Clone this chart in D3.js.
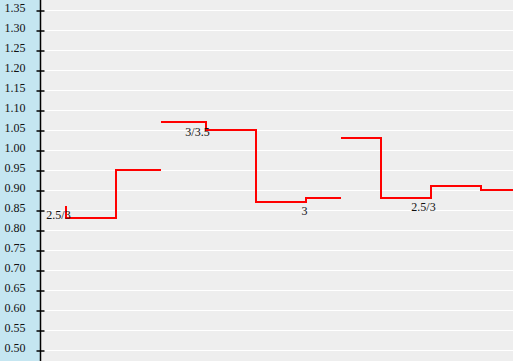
<!DOCTYPE html>
<html>
<head>
<meta charset="utf-8">
<script src="https://cdn.jsdelivr.net/npm/d3@7"></script>
<style>
  body { margin: 0; background: #eeeeee; }
  svg { display: block; }
</style>
</head>
<body>
<div id="chart"></div>
<script>
// Odds series, one per handicap line (x in time units, y is the odds)
var seriesNames = ['2.5/3', '3/3.5', '3']
var series1X = [5, 15, 24]
var series1Y = [0.86, 0.83, 0.95]
var series2X = [24, 33, 43, 53, 60]
var series2Y = [1.07, 1.07, 1.05, 0.87, 0.88]
var series3X = [60, 68, 78, 88, 96]
var series3Y = [1.03, 1.03, 0.88, 0.91, 0.90]

// Handicap labels shown on the lines
var labelText = ['2.5/3', '3/3.5', '3', '2.5/3']
var labelX = [3.6, 31.4, 52.8, 76.6]
var labelY = [0.83, 1.0375, 0.84, 0.848]

// Y axis ticks
var yTicks = d3.range(0.5, 1.3501, 0.05)

// Layout variables
var width = 513
var height = 361
var axisX = 40

var svg = d3.select('#chart').append('svg')
  .attr('width', width)
  .attr('height', height)

// Backgrounds: blue strip behind the axis labels, grey plot area
svg.append('rect')
  .attr('x', 0).attr('y', 0)
  .attr('width', axisX).attr('height', height)
  .style('fill', '#c5e6f1')
svg.append('rect')
  .attr('x', axisX).attr('y', 0)
  .attr('width', width - axisX).attr('height', height)
  .style('fill', '#eeeeee')

var xScale = d3.scaleLinear()
  .domain([0, 94.5])
  .range([40.5, 513])

var yScale = d3.scaleLinear()
  .domain([0.5, 1.35])
  .range([350.5, 10.5])

// Gridlines
svg.append('g')
  .selectAll('line')
  .data(yTicks)
  .enter().append('line')
  .attr('x1', axisX)
  .attr('x2', width)
  .attr('y1', function (d) { return yScale(d) })
  .attr('y2', function (d) { return yScale(d) })
  .style('stroke', '#ffffff')
  .style('stroke-width', 1)

// Y axis
var yAxis = d3.axisLeft(yScale)
  .tickValues(yTicks)
  .tickFormat(d3.format('.2f'))
  .tickSize(4)
  .tickPadding(11)

var axisG = svg.append('g')
  .attr('transform', 'translate(' + (axisX + 0.5) + ',0)')
  .call(yAxis)

axisG.select('.domain').remove()
axisG.append('line')
  .attr('x1', 0).attr('x2', 0)
  .attr('y1', 0).attr('y2', height)
  .style('stroke', '#000')
  .style('stroke-width', 1.5)
axisG.selectAll('.tick line')
  .attr('x1', 4)
  .style('stroke', '#000')
  .style('stroke-width', 1.5)
axisG.selectAll('.tick text')
  .attr('dy', '0.1em')
  .style('font-family', '"Liberation Serif", "Times New Roman", serif')
  .style('font-size', '12px')
  .style('fill', '#111')

// Step lines
var allSeries = [
  { name: seriesNames[0], x: series1X, y: series1Y },
  { name: seriesNames[1], x: series2X, y: series2Y },
  { name: seriesNames[2], x: series3X, y: series3Y }
]

var line = d3.line()
  .x(function (d) { return xScale(d[0]) })
  .y(function (d) { return yScale(d[1]) })
  .curve(d3.curveStepBefore)

// half-pixel shift keeps the 2px strokes crisp
svg.append('g')
  .attr('transform', 'translate(0.5,-0.5)')
  .selectAll('path')
  .data(allSeries)
  .enter().append('path')
  .attr('d', function (s) { return line(d3.zip(s.x, s.y)) })
  .style('fill', 'none')
  .style('stroke', '#ff0000')
  .style('stroke-width', 2)

// Labels
svg.append('g')
  .selectAll('text')
  .data(labelText)
  .enter().append('text')
  .attr('x', function (d, i) { return xScale(labelX[i]) })
  .attr('y', function (d, i) { return yScale(labelY[i]) })
  .attr('text-anchor', 'middle')
  .style('font-family', '"Liberation Serif", "Times New Roman", serif')
  .style('font-size', '12px')
  .style('fill', '#111')
  .text(function (d) { return d })
</script>
</body>
</html>
